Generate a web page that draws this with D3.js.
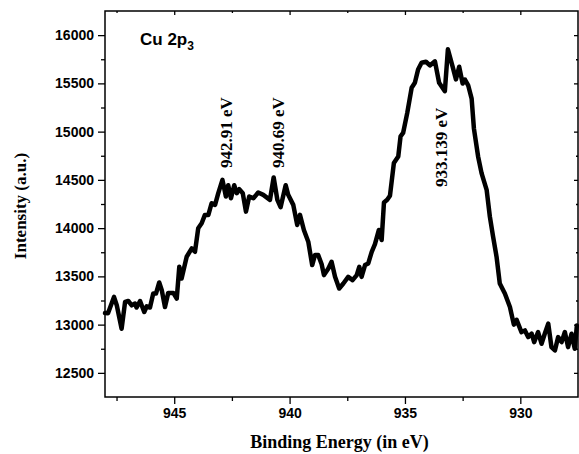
<!DOCTYPE html>
<html>
<head>
<meta charset="utf-8">
<script src="https://cdn.jsdelivr.net/npm/d3@7/dist/d3.min.js"></script>
<style>
  html, body { margin: 0; padding: 0; background: #fff; }
  svg { display: block; }
</style>
</head>
<body>
<svg id="chart" width="579" height="454"></svg>
<script>
// Cu 2p3 XPS spectrum: binding energy (eV) and intensity (a.u.)
const energy = [
  948.00, 947.87, 947.61, 947.49, 947.28, 947.13, 946.99, 946.84, 946.70, 946.63,
  946.48, 946.30, 946.19, 946.05, 945.91, 945.79, 945.65, 945.54, 945.40, 945.26,
  945.04, 944.89, 944.78, 944.68, 944.46, 944.24, 944.10, 943.96, 943.81, 943.67,
  943.52, 943.38, 943.23, 943.09, 942.91, 942.76, 942.66, 942.54, 942.40, 942.29,
  942.18, 942.03, 941.89, 941.75, 941.57, 941.36, 941.14, 940.85, 940.69, 940.53,
  940.39, 940.17, 940.06, 939.84, 939.67, 939.55, 939.38, 939.19, 939.02, 938.90,
  938.76, 938.61, 938.51, 938.32, 938.18, 938.03, 937.85, 937.67, 937.46, 937.27,
  937.09, 936.98, 936.88, 936.73, 936.59, 936.44, 936.30, 936.13, 936.01, 935.91,
  935.77, 935.65, 935.48, 935.29, 935.19, 935.08, 934.90, 934.71, 934.57, 934.43,
  934.28, 934.09, 933.92, 933.70, 933.52, 933.27, 933.139, 932.94, 932.79, 932.65,
  932.50, 932.40, 932.26, 932.11, 932.01, 931.83, 931.68, 931.46, 931.32, 931.18,
  931.03, 930.89, 930.67, 930.45, 930.28, 930.16, 929.95, 929.80, 929.66, 929.51,
  929.40, 929.23, 929.08, 928.94, 928.79, 928.65, 928.50, 928.36, 928.21, 928.07,
  927.93, 927.78, 927.64, 927.55
];
const intensity = [
  13120, 13118, 13287, 13200, 12958, 13235, 13245, 13200, 13218, 13177,
  13245, 13131, 13190, 13177, 13322, 13322, 13437, 13357, 13183, 13329,
  13329, 13270, 13600, 13478, 13703, 13790, 13755, 13998, 14050, 14137,
  14137, 14258, 14241, 14362, 14500, 14327, 14445, 14310, 14445, 14362,
  14404, 14362, 14171, 14327, 14310, 14369, 14345, 14293, 14525, 14293,
  14217, 14445, 14345, 14241, 14033, 14137, 13981, 13859, 13617, 13721,
  13721, 13625, 13513, 13582, 13651, 13495, 13374, 13426, 13495, 13461,
  13513, 13599, 13495, 13617, 13634, 13755, 13835, 13981, 13877, 14265,
  14293, 14335, 14674, 14743, 14951, 14986, 15194, 15454, 15506, 15644,
  15714, 15724, 15686, 15728, 15506, 15419, 15853, 15679, 15541, 15672,
  15498, 15540, 15480, 15342, 15030, 14743, 14570, 14397, 14119, 13911,
  13703, 13426, 13322, 13183, 13000, 13050, 12923, 12940, 12871, 12906,
  12819, 12923, 12802, 12906, 13010, 12767, 12733, 12871, 12819, 12923,
  12767, 12906, 12750, 12990
];

// Axis ticks
const xMajorTicks = [945, 940, 935, 930];
const xMinorTicks = [947.5, 942.5, 937.5, 932.5];
const yMajorTicks = [12500, 13000, 13500, 14000, 14500, 15000, 15500, 16000];
const yMinorTicks = [12750, 13250, 13750, 14250, 14750, 15250, 15750];

// Peak annotations
const peakEnergies = [942.91, 940.69, 933.139];
const peakLabels = ["942.91 eV", "940.69 eV", "933.139 eV"];

const svg = d3.select("#chart");
const margin = { left: 105, right: 1, top: 11, bottom: 57 };
const W = 579, H = 454;

const x = d3.scaleLinear().domain([948, 927.5]).range([margin.left, W - margin.right]);
const y = d3.scaleLinear().domain([12250, 16250]).range([H - margin.bottom, margin.top]);

const tickFont = "bold 14px 'Liberation Sans', Arial, sans-serif";

// Bottom axis
const gx = svg.append("g").attr("transform", `translate(0,${y.range()[0]})`);
gx.call(d3.axisBottom(x).tickValues(xMajorTicks).tickSize(7).tickPadding(4).tickFormat(d3.format("d")));
gx.append("g").call(d3.axisBottom(x).tickValues(xMinorTicks).tickSize(4).tickFormat(""));

// Left axis
const gy = svg.append("g").attr("transform", `translate(${x.range()[0]},0)`);
gy.call(d3.axisLeft(y).tickValues(yMajorTicks).tickSize(7).tickPadding(4).tickFormat(d3.format("d")));
gy.append("g").call(d3.axisLeft(y).tickValues(yMinorTicks).tickSize(4).tickFormat(""));

// Top axis (inward ticks)
const gt = svg.append("g").attr("transform", `translate(0,${y.range()[1]})`);
gt.call(d3.axisBottom(x).tickValues(xMajorTicks).tickSize(4).tickFormat(""));
gt.append("g").call(d3.axisBottom(x).tickValues(xMinorTicks).tickSize(2).tickFormat(""));

// Right axis (inward ticks)
const gr = svg.append("g").attr("transform", `translate(${x.range()[1]},0)`);
gr.call(d3.axisLeft(y).tickValues(yMajorTicks).tickSize(4).tickFormat(""));
gr.append("g").call(d3.axisLeft(y).tickValues(yMinorTicks).tickSize(2).tickFormat(""));

svg.selectAll(".domain").remove();
svg.selectAll(".tick line").attr("stroke", "#000").attr("stroke-width", 1.3);
svg.selectAll(".tick text")
  .attr("fill", "#000")
  .style("font", tickFont);

// Frame
svg.append("rect")
  .attr("x", x.range()[0]).attr("y", y.range()[1])
  .attr("width", x.range()[1] - x.range()[0])
  .attr("height", y.range()[0] - y.range()[1])
  .attr("fill", "none").attr("stroke", "#000").attr("stroke-width", 1.5);

// Spectrum line
const pts = energy.map((e, i) => [e, intensity[i]]);
svg.append("path")
  .datum(pts)
  .attr("fill", "none")
  .attr("stroke", "#000")
  .attr("stroke-width", 4.5)
  .attr("stroke-linejoin", "round")
  .attr("stroke-linecap", "round")
  .attr("d", d3.line().x(d => x(d[0])).y(d => y(d[1])));

// Axis titles
const titleFont = "bold 18px 'Liberation Serif', 'Times New Roman', serif";
svg.append("text")
  .attr("x", (x.range()[0] + x.range()[1]) / 2 - 2)
  .attr("y", 448)
  .attr("text-anchor", "middle")
  .style("font", titleFont)
  .text("Binding Energy (in eV)");

svg.append("text")
  .attr("transform", `translate(26,${(y.range()[0] + y.range()[1]) / 2 + 2}) rotate(-90)`)
  .attr("text-anchor", "middle")
  .style("font", "bold 17px 'Liberation Serif', 'Times New Roman', serif")
  .text("Intensity (a.u.)");

// Panel label
const panel = svg.append("text")
  .attr("x", 140).attr("y", 45)
  .style("font", "bold 17px 'Liberation Sans', Arial, sans-serif");
panel.append("tspan").text("Cu 2p");
panel.append("tspan").attr("dy", 5).style("font-size", "12px").text("3");

// Peak labels, rotated; [dx from peak, bottom y of text]
const labelPlacement = [[10, 168], [10, 168], [-1, 187]];
peakEnergies.forEach((e, i) => {
  const [dx, by] = labelPlacement[i];
  svg.append("text")
    .attr("transform", `translate(${x(e) + dx},${by}) rotate(-90)`)
    .attr("text-anchor", "start")
    .style("font", "bold 17px 'Liberation Serif', 'Times New Roman', serif")
    .text(peakLabels[i]);
});
</script>
</body>
</html>
